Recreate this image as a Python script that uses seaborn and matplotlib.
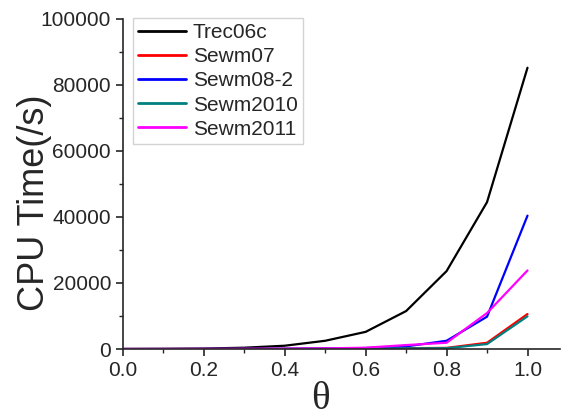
import matplotlib
matplotlib.use("Agg")
import matplotlib.pyplot as plt
from matplotlib.ticker import MultipleLocator
import numpy as np
import pandas as pd
import seaborn as sns

theta = [0.0, 0.1, 0.2, 0.3, 0.4, 0.5, 0.6, 0.7, 0.8, 0.9, 1.0]
trec06c = [10, 50, 150, 400, 1000, 2500, 5200, 11500, 23600, 44500, 85200]
sewm07 = [0, 5, 10, 20, 40, 80, 150, 250, 350, 1900, 10600]
sewm08_2 = [0, 10, 20, 40, 80, 150, 300, 800, 2500, 9800, 40400]
sewm2010 = [0, 5, 10, 20, 40, 70, 130, 200, 250, 1500, 9900]
sewm2011 = [0, 10, 30, 60, 100, 200, 400, 1200, 1900, 10900, 23800]

names = ["Trec06c", "Sewm07", "Sewm08-2", "Sewm2010", "Sewm2011"]
colors = ["black", "red", "blue", "#008080", "magenta"]

series = [trec06c, sewm07, sewm08_2, sewm2010, sewm2011]
df = pd.concat([pd.DataFrame({"theta": theta, "cpu": s, "name": n})
                for s, n in zip(series, names)], ignore_index=True)

sns.set_style("ticks")
plt.rcParams['font.family'] = ['Liberation Sans', 'DejaVu Sans']

fig = plt.figure(figsize=(5.61, 4.19), dpi=100)
ax = fig.add_axes([0.219, 0.167, 0.779, 0.788])
sns.lineplot(data=df, x="theta", y="cpu", hue="name", palette=colors,
             linewidth=1.6, ax=ax)

ax.set_xlim(0, 1.08)
ax.set_ylim(0, 100000)
ax.xaxis.set_major_locator(MultipleLocator(0.2))
ax.xaxis.set_minor_locator(MultipleLocator(0.1))
ax.yaxis.set_major_locator(MultipleLocator(20000))
ax.yaxis.set_minor_locator(MultipleLocator(10000))
ax.xaxis.set_major_formatter(matplotlib.ticker.FormatStrFormatter('%.1f'))
ax.tick_params(which='major', direction='out', length=5, width=1.2, labelsize=15)
ax.tick_params(which='minor', direction='out', length=3, width=1.0)
for s in ['top', 'right']:
    ax.spines[s].set_visible(False)
for s in ['left', 'bottom']:
    ax.spines[s].set_linewidth(1.2)

ax.set_ylabel("CPU Time(/s)", fontsize=26)
ax.yaxis.set_label_coords(-0.163, 0.442)
ax.set_xlabel("θ", fontsize=28, family=['Liberation Serif', 'DejaVu Serif'])
ax.xaxis.set_label_coords(0.453, -0.098)

leg = ax.legend(loc='upper left', bbox_to_anchor=(0.0, 1.035), fontsize=15,
                frameon=True, fancybox=False, edgecolor='#c8c8c8',
                handlelength=2.3, handletextpad=0.3, borderpad=0.25,
                labelspacing=0.25, borderaxespad=0.5)
leg.get_frame().set_linewidth(1.0)
for line in leg.get_lines():
    line.set_linewidth(2.0)

fig.savefig("out.png", dpi=100)
